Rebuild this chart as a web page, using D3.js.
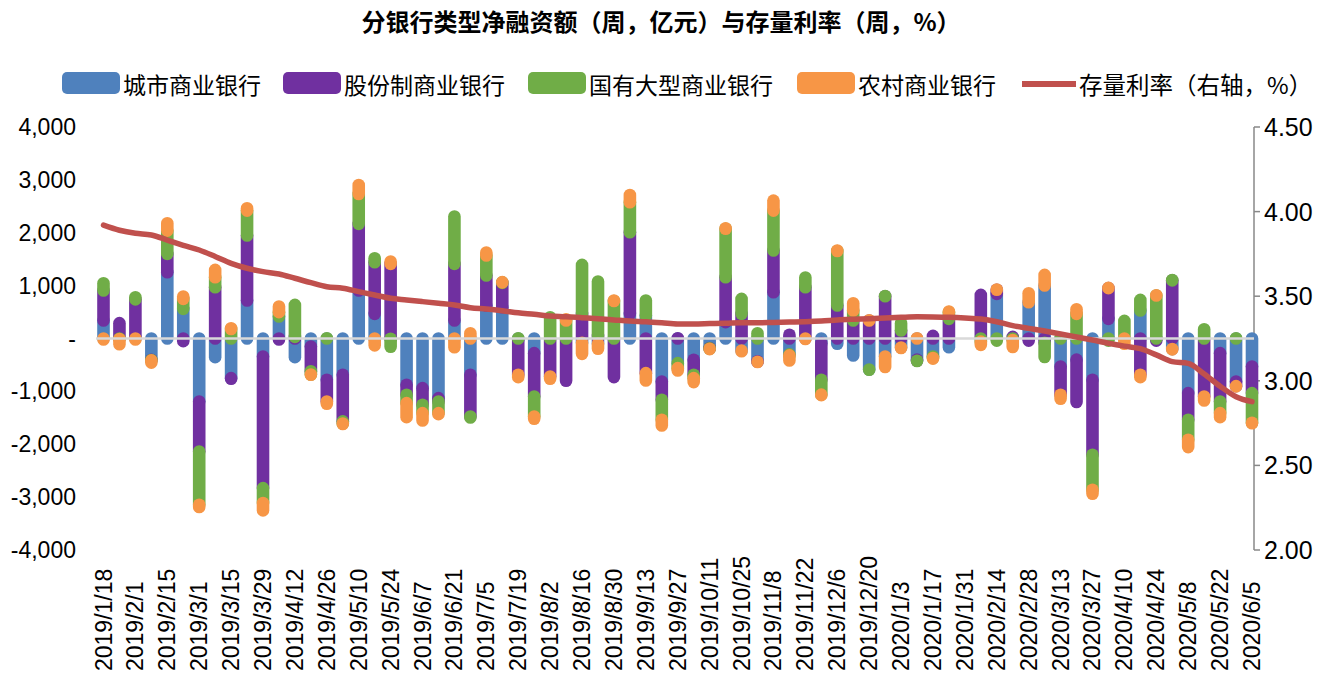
<!DOCTYPE html>
<html><head><meta charset="utf-8">
<script src="https://cdn.jsdelivr.net/npm/d3@7"></script>
<style>body{margin:0;background:#fff;} svg{display:block;}</style>
</head><body><svg id="c" width="1337" height="682"></svg>
<script>
const dates = ["2019/1/18","2019/1/25","2019/2/1","2019/2/8","2019/2/15","2019/2/22","2019/3/1","2019/3/8","2019/3/15","2019/3/22","2019/3/29","2019/4/5","2019/4/12","2019/4/19","2019/4/26","2019/5/3","2019/5/10","2019/5/17","2019/5/24","2019/5/31","2019/6/7","2019/6/14","2019/6/21","2019/6/28","2019/7/5","2019/7/12","2019/7/19","2019/7/26","2019/8/2","2019/8/9","2019/8/16","2019/8/23","2019/8/30","2019/9/6","2019/9/13","2019/9/20","2019/9/27","2019/10/4","2019/10/11","2019/10/18","2019/10/25","2019/11/1","2019/11/8","2019/11/15","2019/11/22","2019/11/29","2019/12/6","2019/12/13","2019/12/20","2019/12/27","2020/1/3","2020/1/10","2020/1/17","2020/1/24","2020/1/31","2020/2/7","2020/2/14","2020/2/21","2020/2/28","2020/3/6","2020/3/13","2020/3/20","2020/3/27","2020/4/3","2020/4/10","2020/4/17","2020/4/24","2020/5/1","2020/5/8","2020/5/15","2020/5/22","2020/5/29","2020/6/5"];

const seriesNames = ["城市商业银行","股份制商业银行","国有大型商业银行","农村商业银行"];
const lineName = "存量利率（右轴，%）";

const cityBank  = [340,0,20,-403,1254,561,-1191,-353,-750,718,-340,416,-353,-150,-781,-687,907,466,-5,-876,-939,-1128,340,-687,624,592,-20,-277,0,-5,-80,-100,-10,466,435,-813,-466,-403,-180,309,-230,-430,876,-300,0,-88,-100,-321,-586,-340,-170,-400,-340,-164,null,0,844,0,687,1002,-529,-400,-781,372,0,529,-10,-200,-1033,0,-277,-813,-529];
const jointStock = [567,290,720,-5,346,-50,-945,970,-10,1229,-2489,-20,30,-470,-410,-880,1260,977,1411,-189,-315,-63,1071,-787,567,460,-667,-819,-718,-794,466,50,-720,1544,-655,-346,5,-284,-5,850,466,-10,787,70,970,-693,624,340,340,800,150,-20,50,372,null,825,77,30,-40,-80,-536,-800,-1418,580,0,-687,-30,1100,-504,-1096,-914,-88,-504];
const stateOwned = [139,-10,40,-5,441,189,-1008,189,180,472,-283,82,606,-60,5,-40,567,75,-150,-157,-157,-220,895,-20,378,10,5,-378,403,340,926,1027,708,567,283,-378,-95,-63,-10,916,284,100,756,-20,183,-280,1030,189,-5,5,140,-5,-30,126,null,-60,-40,-30,0,-270,5,466,-661,-40,334,202,814,5,-378,176,-220,5,-561];
const ruralBank = [-20,-100,-20,-44,139,44,-44,139,15,44,-139,107,0,-5,-44,-10,170,-130,44,-265,-139,-20,-164,100,56,5,-44,-44,-44,25,-210,-95,10,138,-139,-107,-44,-75,-5,10,-10,-5,189,-96,-10,-10,10,139,5,-200,-10,5,-10,12,null,-60,5,-130,170,201,-75,88,-76,5,-100,-44,5,-5,-139,-76,-76,-5,-10];
const stockRate = [3.92,3.89,3.872,3.862,3.832,3.80,3.773,3.735,3.694,3.665,3.645,3.631,3.606,3.58,3.556,3.547,3.527,3.507,3.488,3.478,3.468,3.458,3.448,3.432,3.424,3.414,3.402,3.393,3.383,3.379,3.373,3.367,3.36,3.353,3.349,3.343,3.336,3.336,3.338,3.34,3.343,3.343,3.345,3.347,3.349,3.353,3.36,3.364,3.367,3.371,3.375,3.378,3.377,3.375,3.371,3.365,3.349,3.326,3.31,3.294,3.277,3.259,3.241,3.222,3.205,3.19,3.153,3.113,3.103,3.04,2.968,2.906,2.877];

const leftTicks = [4000,3000,2000,1000,0,-1000,-2000,-3000,-4000];
const leftTickLabels = ["4,000","3,000","2,000","1,000","-","-1,000","-2,000","-3,000","-4,000"];
const rightTicks = [4.5,4.0,3.5,3.0,2.5,2.0];
const rightTickLabels = ["4.50","4.00","3.50","3.00","2.50","2.00"];

const colors = ["#4F81BD","#7030A0","#70AD47","#F79646"];
const lineColor = "#C0504D";
const keys = ["city","joint","state","rural"];
const seriesArrays = [cityBank, jointStock, stateOwned, ruralBank];

const rows = dates.map((d,i)=>({date:d, city:cityBank[i], joint:jointStock[i], state:stateOwned[i], rural:ruralBank[i]}));

const svg = d3.select("#c");
const x = d3.scalePoint().domain(dates).range([103.5, 1252]);
const yL = d3.scaleLinear().domain([-4000,4000]).range([550,127]);
const yR = d3.scaleLinear().domain([2,4.5]).range([550,127]);
const font = "'Liberation Sans', Arial, sans-serif";
const cjk = "'Noto Sans CJK SC', sans-serif";

// title
svg.append("text").attr("x",661).attr("y",20).attr("text-anchor","middle").attr("dominant-baseline","central")
  .attr("font-family",cjk).attr("font-weight","bold").attr("font-size",24).attr("fill","#000")
  .text("分银行类型净融资额（周，亿元）与存量利率（周，%）");

// legend
const legX = [62, 283, 528, 797];
const leg = svg.append("g");
seriesNames.forEach((n,i)=>{
  leg.append("rect").attr("x",legX[i]).attr("y",72).attr("width",58).attr("height",22).attr("rx",5).attr("fill",colors[i]);
  leg.append("text").attr("x",legX[i]+61).attr("y",84).attr("dominant-baseline","central")
    .attr("font-family",cjk).attr("font-size",23).attr("fill","#000").text(n);
});
leg.append("line").attr("x1",1022).attr("x2",1076).attr("y1",84).attr("y2",84).attr("stroke",lineColor).attr("stroke-width",6);
leg.append("text").attr("x",1079).attr("y",84).attr("dominant-baseline","central")
  .attr("font-family",cjk).attr("font-size",23.5).attr("fill","#000").text(lineName);

// left axis labels
const gl = svg.append("g");
leftTicks.forEach((t,i)=>{
  gl.append("text").attr("x",76).attr("y",yL(t)).attr("text-anchor","end").attr("dominant-baseline","central")
    .attr("font-family",font).attr("font-size",23).attr("fill","#000").text(leftTickLabels[i]);
});

// right axis
const gr = svg.append("g");
gr.append("line").attr("x1",1254).attr("x2",1254).attr("y1",127).attr("y2",550).attr("stroke","#888").attr("stroke-width",1.5);
rightTicks.forEach((t,i)=>{
  gr.append("line").attr("x1",1254).attr("x2",1260).attr("y1",yR(t)).attr("y2",yR(t)).attr("stroke","#888").attr("stroke-width",1.5);
  gr.append("text").attr("x",1264).attr("y",yR(t)).attr("dominant-baseline","central")
    .attr("font-family",font).attr("font-size",25).attr("fill","#000").text(rightTickLabels[i]);
});

// x labels
const gx = svg.append("g");
dates.forEach((d,i)=>{
  if(i%2!==0) return;
  gx.append("text").attr("transform",`translate(${x(d)},671) rotate(-90)`).attr("text-anchor","start")
    .attr("dominant-baseline","central").attr("font-family",font).attr("font-size",23).attr("fill","#000").text(d);
});

// stacked bars (diverging), drawn as round-capped segments
const stack = d3.stack().keys(keys).value((d,k)=> d[k]==null ? 0 : d[k]).offset(d3.stackOffsetDiverging);
const layers = stack(rows);
const bw = 12.6;
const gb = svg.append("g");
layers.forEach((layer,li)=>{
  layer.forEach((seg,i)=>{
    const v = seriesArrays[li][i];
    if(v==null || v===0) return;
    const y0 = yL(seg[0]), y1 = yL(seg[1]);
    gb.append("rect").attr("x",x(dates[i])-bw/2).attr("y",Math.min(y0,y1)-bw/2)
      .attr("width",bw).attr("height",Math.abs(y1-y0)+bw).attr("rx",bw/2).attr("ry",bw/2)
      .attr("fill",colors[li]);
  });
});

// zero line
svg.append("line").attr("x1",96).attr("x2",1254).attr("y1",yL(0)).attr("y2",yL(0)).attr("stroke","#D9D9D9").attr("stroke-width",2.5);

// rate line
const line = d3.line().x((d,i)=>x(dates[i])).y(d=>yR(d)).curve(d3.curveMonotoneX);
svg.append("path").datum(stockRate).attr("d",line).attr("fill","none").attr("stroke",lineColor)
  .attr("stroke-width",5.5).attr("stroke-linejoin","round").attr("stroke-linecap","round");
</script>
</body></html>
